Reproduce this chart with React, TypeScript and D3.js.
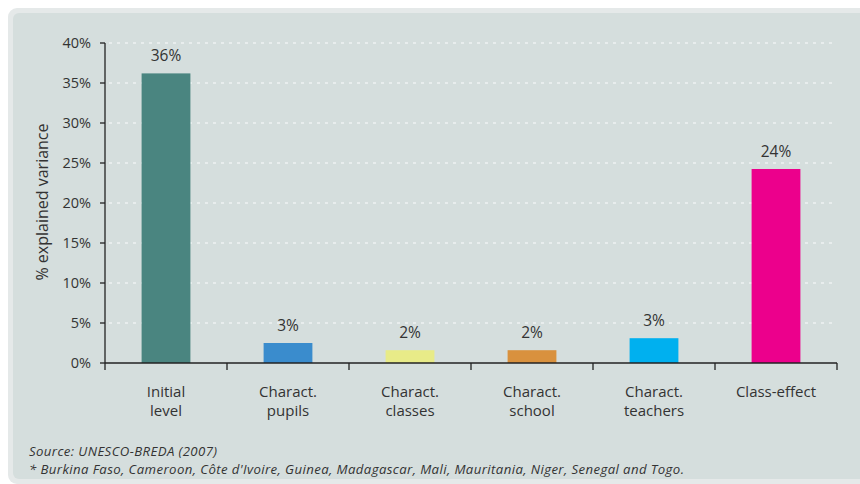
import React from "react";
import * as d3 from "d3";

const categories: string[][] = [
  ["Initial", "level"],
  ["Charact.", "pupils"],
  ["Charact.", "classes"],
  ["Charact.", "school"],
  ["Charact.", "teachers"],
  ["Class-effect"],
];
const values: number[] = [36.2, 2.5, 1.6, 1.6, 3.1, 24.25];
const valueLabels: string[] = ["36%", "3%", "2%", "2%", "3%", "24%"];
const colors: string[] = ["#4a8580", "#3a8ccd", "#e8eb88", "#d9913e", "#00b0ef", "#ec008c"];
const yTicks: number[] = [0, 5, 10, 15, 20, 25, 30, 35, 40];
const yTitle = "% explained variance";
const sourceNote = "Source: UNESCO-BREDA (2007)";
const countriesNote =
  "* Burkina Faso, Cameroon, Côte d'Ivoire, Guinea, Madagascar, Mali, Mauritania, Niger, Senegal and Togo.";

const W = 860;
const H = 484;
const font = "'Open Sans', 'Noto Sans', sans-serif";
const textColor = "#333";

export default function App() {
  const left = 105;
  const right = 837;
  const top = 43;
  const bottom = 363;
  const x = d3
    .scaleBand<number>()
    .domain(categories.map((_, i) => i))
    .range([left, right])
    .paddingInner(0)
    .paddingOuter(0);
  const y = d3.scaleLinear().domain([0, 40]).range([bottom, top]);
  const bw = x.bandwidth() * 0.4;

  return (
    <svg
      width={W}
      height={H}
      style={{ position: "absolute", left: 0, top: 0 }}
      fontFamily={font}
    >
      <rect x={0} y={0} width={W} height={H} fill="#ffffff" />
      <rect x={8} y={8} width={W + 20} height={476} rx={9} fill="#e5e9e9" />
      <rect x={13} y={13} width={W + 20} height={466} rx={6} fill="#d5dedd" />

      {/* gridlines */}
      {yTicks
        .filter((t) => t > 0)
        .map((t) => (
          <line
            key={"g" + t}
            x1={left + 4}
            x2={right}
            y1={y(t)}
            y2={y(t)}
            stroke="#eef2f2"
            strokeWidth={1.5}
            strokeDasharray="3,5"
          />
        ))}

      {/* bars */}
      {values.map((v, i) => {
        const cx = (x(i) as number) + x.bandwidth() / 2;
        return (
          <g key={"b" + i}>
            <rect x={cx - bw / 2} y={y(v)} width={bw} height={y(0) - y(v)} fill={colors[i]} />
            <text
              x={cx}
              y={y(v) - 12}
              textAnchor="middle"
              fontSize={15.5}
              fill={textColor}
            >
              {valueLabels[i]}
            </text>
          </g>
        );
      })}

      {/* y axis */}
      <line x1={left} x2={left} y1={top} y2={bottom} stroke="#222" strokeWidth={1.3} />
      {yTicks.map((t) => (
        <g key={"t" + t}>
          <line x1={left - 5} x2={left} y1={y(t)} y2={y(t)} stroke="#222" strokeWidth={1.3} />
          <text
            x={left - 14}
            y={y(t)}
            dy="0.36em"
            textAnchor="end"
            fontSize={14.5}
            fill={textColor}
          >
            {t + "%"}
          </text>
        </g>
      ))}
      <text
        transform={`translate(48, ${(top + bottom) / 2 - 1}) rotate(-90)`}
        textAnchor="middle"
        fontSize={16}
        fill={textColor}
      >
        {yTitle}
      </text>

      {/* x axis */}
      <line x1={left} x2={right} y1={bottom} y2={bottom} stroke="#222" strokeWidth={1.3} />
      {categories.map((_, i) => (
        <line
          key={"xt" + i}
          x1={x(i) as number}
          x2={x(i) as number}
          y1={bottom}
          y2={bottom + 7}
          stroke="#222"
          strokeWidth={1.3}
        />
      ))}
      <line x1={right} x2={right} y1={bottom} y2={bottom + 7} stroke="#222" strokeWidth={1.3} />
      {categories.map((lines, i) => {
        const cx = (x(i) as number) + x.bandwidth() / 2;
        return lines.map((l, j) => (
          <text
            key={"c" + i + "_" + j}
            x={cx}
            y={397 + j * 19}
            textAnchor="middle"
            fontSize={15}
            fill={textColor}
          >
            {l}
          </text>
        ));
      })}

      {/* notes */}
      <text x={29} y={456} fontSize={13.2} letterSpacing={0.4} fontStyle="italic" fill={textColor}>
        {sourceNote}
      </text>
      <text x={29} y={474} fontSize={13.2} letterSpacing={0.4} fontStyle="italic" fill={textColor}>
        {countriesNote}
      </text>
    </svg>
  );
}
